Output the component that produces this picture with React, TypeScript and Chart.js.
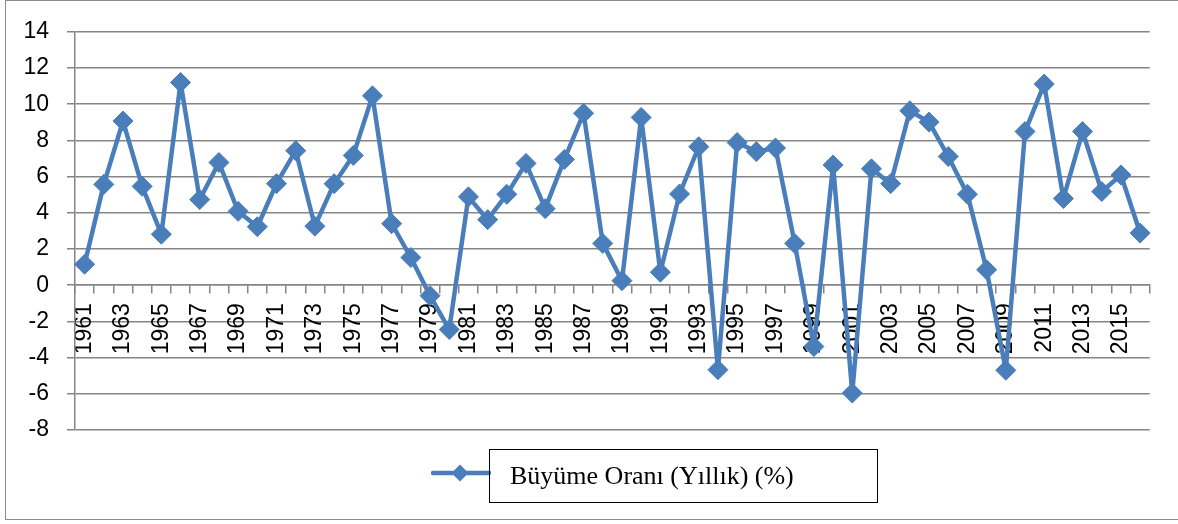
import { useEffect, useRef } from "react";
import { Chart, registerables } from "chart.js";

Chart.register(...registerables);

const years: string[] = [
  "1961", "1962", "1963", "1964", "1965", "1966", "1967", "1968", "1969", "1970",
  "1971", "1972", "1973", "1974", "1975", "1976", "1977", "1978", "1979", "1980",
  "1981", "1982", "1983", "1984", "1985", "1986", "1987", "1988", "1989", "1990",
  "1991", "1992", "1993", "1994", "1995", "1996", "1997", "1998", "1999", "2000",
  "2001", "2002", "2003", "2004", "2005", "2006", "2007", "2008", "2009", "2010",
  "2011", "2012", "2013", "2014", "2015", "2016",
];

const growth: number[] = [
  1.16, 5.57, 9.07, 5.46, 2.82, 11.2, 4.73, 6.78, 4.08, 3.23,
  5.61, 7.43, 3.26, 5.61, 7.17, 10.46, 3.4, 1.53, -0.58, -2.45,
  4.88, 3.62, 5.02, 6.73, 4.23, 6.95, 9.5, 2.31, 0.25, 9.27,
  0.72, 5.04, 7.65, -4.67, 7.88, 7.38, 7.58, 2.31, -3.39, 6.64,
  -5.96, 6.43, 5.61, 9.64, 9.01, 7.11, 5.03, 0.85, -4.7, 8.49,
  11.11, 4.79, 8.49, 5.17, 6.09, 2.88,
];

const seriesLabel = "Büyüme Oranı (Yıllık) (%)";
const yMin = -8;
const yMax = 14;
const yStep = 2;

const BLUE = "#4A7EBB";
const GRID = "#858585";
const TICK_FONT = { family: "'Liberation Sans', Arial, sans-serif", size: 23 };

export default function App() {
  const canvasRef = useRef<HTMLCanvasElement | null>(null);

  useEffect(() => {
    if (!canvasRef.current) return;
    const chart = new Chart(canvasRef.current, {
      type: "line",
      data: {
        labels: years,
        datasets: [
          {
            label: seriesLabel,
            data: growth,
            borderColor: BLUE,
            backgroundColor: BLUE,
            borderWidth: 4.5,
            borderJoinStyle: "round",
            tension: 0,
            pointStyle: "rectRot",
            pointRadius: 10,
            pointBorderWidth: 1,
            pointBackgroundColor: BLUE,
            pointBorderColor: BLUE,
          },
        ],
      },
      options: {
        responsive: false,
        animation: false,
        events: [],
        layout: { padding: { left: 0, top: 29, right: 28, bottom: 94 } },
        plugins: {
          legend: { display: false },
          tooltip: { enabled: false },
        },
        scales: {
          x: {
            type: "category",
            position: { y: 0 } as any,
            offset: true,
            afterFit: (scale: any) => {
              scale.height = 0;
            },
            grid: {
              offset: true,
              drawOnChartArea: false,
              drawTicks: true,
              tickLength: 8,
              color: GRID,
              lineWidth: 1.5,
            },
            border: { display: true, color: GRID, width: 1.5 },
            ticks: {
              autoSkip: false,
              maxRotation: 90,
              minRotation: 90,
              padding: 10,
              color: "#000",
              font: TICK_FONT,
              callback: (_v: any, i: number) => (i % 2 === 0 ? years[i] : ""),
            },
          },
          y: {
            min: yMin,
            max: yMax,
            afterFit: (scale: any) => {
              scale.width = 75;
            },
            grid: {
              color: GRID,
              lineWidth: 1.5,
              drawTicks: true,
              tickLength: 8,
            },
            border: { display: true, color: GRID, width: 1.5 },
            ticks: {
              stepSize: yStep,
              padding: 18,
              color: "#000",
              font: TICK_FONT,
            },
          },
        },
      },
    });
    return () => chart.destroy();
  }, []);

  return (
    <div
      style={{
        position: "fixed",
        left: 0,
        top: 0,
        width: 1178,
        height: 524,
        background: "#fff",
        overflow: "hidden",
      }}
    >
      <div
        style={{
          position: "absolute",
          left: 5,
          top: 0,
          width: 1190,
          height: 520,
          border: "1.5px solid #8a8a8a",
          boxSizing: "border-box",
        }}
      />
      <canvas
        ref={canvasRef}
        width={1178}
        height={524}
        style={{ position: "absolute", left: 0, top: 0 }}
      />
      <svg
        width={60}
        height={24}
        style={{ position: "absolute", left: 431, top: 461 }}
      >
        <line x1={2} y1={12} x2={58} y2={12} stroke={BLUE} strokeWidth={4.5} strokeLinecap="round" />
        <polygon points="29,3.5 37.5,12 29,20.5 20.5,12" fill={BLUE} />
      </svg>
      <div
        style={{
          position: "absolute",
          left: 489,
          top: 449,
          width: 389,
          height: 54,
          border: "1.5px solid #000",
          boxSizing: "border-box",
          display: "flex",
          alignItems: "center",
          paddingLeft: 20,
          fontFamily: "'Liberation Serif', 'Times New Roman', serif",
          fontSize: 26,
          color: "#000",
          whiteSpace: "nowrap",
        }}
      >
        {seriesLabel}
      </div>
    </div>
  );
}
